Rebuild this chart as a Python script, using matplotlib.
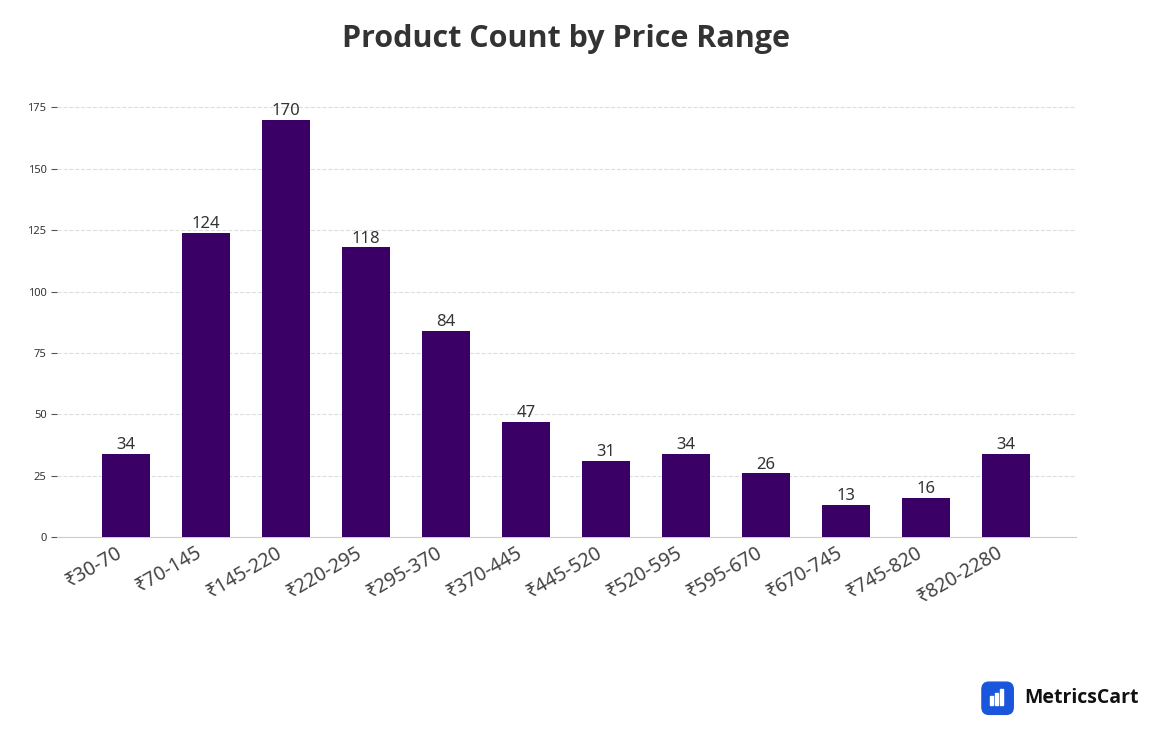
import matplotlib.pyplot as plt
from matplotlib.patches import FancyBboxPatch

plt.rcParams["font.family"] = ["Noto Sans", "DejaVu Sans"]

# data
ranges = ["₹30-70", "₹70-145", "₹145-220", "₹220-295", "₹295-370", "₹370-445",
          "₹445-520", "₹520-595", "₹595-670", "₹670-745", "₹745-820", "₹820-2280"]
counts = [34, 124, 170, 118, 84, 47, 31, 34, 26, 13, 16, 34]
yticks = [0, 25, 50, 75, 100, 125, 150, 175]

fig = plt.figure(figsize=(11.6, 7.46), dpi=100)
ax = fig.add_axes([0.049, 0.280, 0.879, 0.586])

x = range(len(ranges))
ax.bar(x, counts, width=0.6, color="#3b0066", zorder=3)
for xi, v in zip(x, counts):
    ax.text(xi, v + 0.3, str(v), ha="center", va="bottom", fontsize=12, color="#333333")

ax.set_xlim(-0.86, 11.88)
ax.set_ylim(0, 178)
ax.set_yticks(yticks)
ax.tick_params(axis="y", labelsize=8, length=4, color="#555555", labelcolor="#333333")
ax.set_xticks(list(x))
ax.set_xticklabels(ranges, rotation=30, ha="right", fontsize=14, color="#444444")
ax.tick_params(axis="x", length=0, pad=4)
ax.grid(axis="y", linestyle="--", color="#dddddd", linewidth=0.8, zorder=0)
for s in ["left", "top", "right"]:
    ax.spines[s].set_visible(False)
ax.spines["bottom"].set_color("#cccccc")

fig.text(0.488, 0.948, "Product Count by Price Range", ha="center", va="center",
         fontsize=22, fontweight="bold", color="#333333", family="Open Sans")

# logo
logo = fig.add_axes([0.845, 0.04, 0.03, 0.048])
logo.axis("off")
logo.add_patch(FancyBboxPatch((0.05, 0.05), 0.9, 0.9, boxstyle="round,pad=0,rounding_size=0.2",
                              color="#1a56db", transform=logo.transAxes))
for i, h in enumerate([0.25, 0.35, 0.45]):
    logo.add_patch(plt.Rectangle((0.28 + i * 0.15, 0.3), 0.08, h, color="white",
                                 transform=logo.transAxes))
fig.text(0.883, 0.064, "MetricsCart", ha="left", va="center", fontsize=14,
         fontweight="bold", color="#111111", family="Open Sans")

fig.savefig("out.png", dpi=100)
